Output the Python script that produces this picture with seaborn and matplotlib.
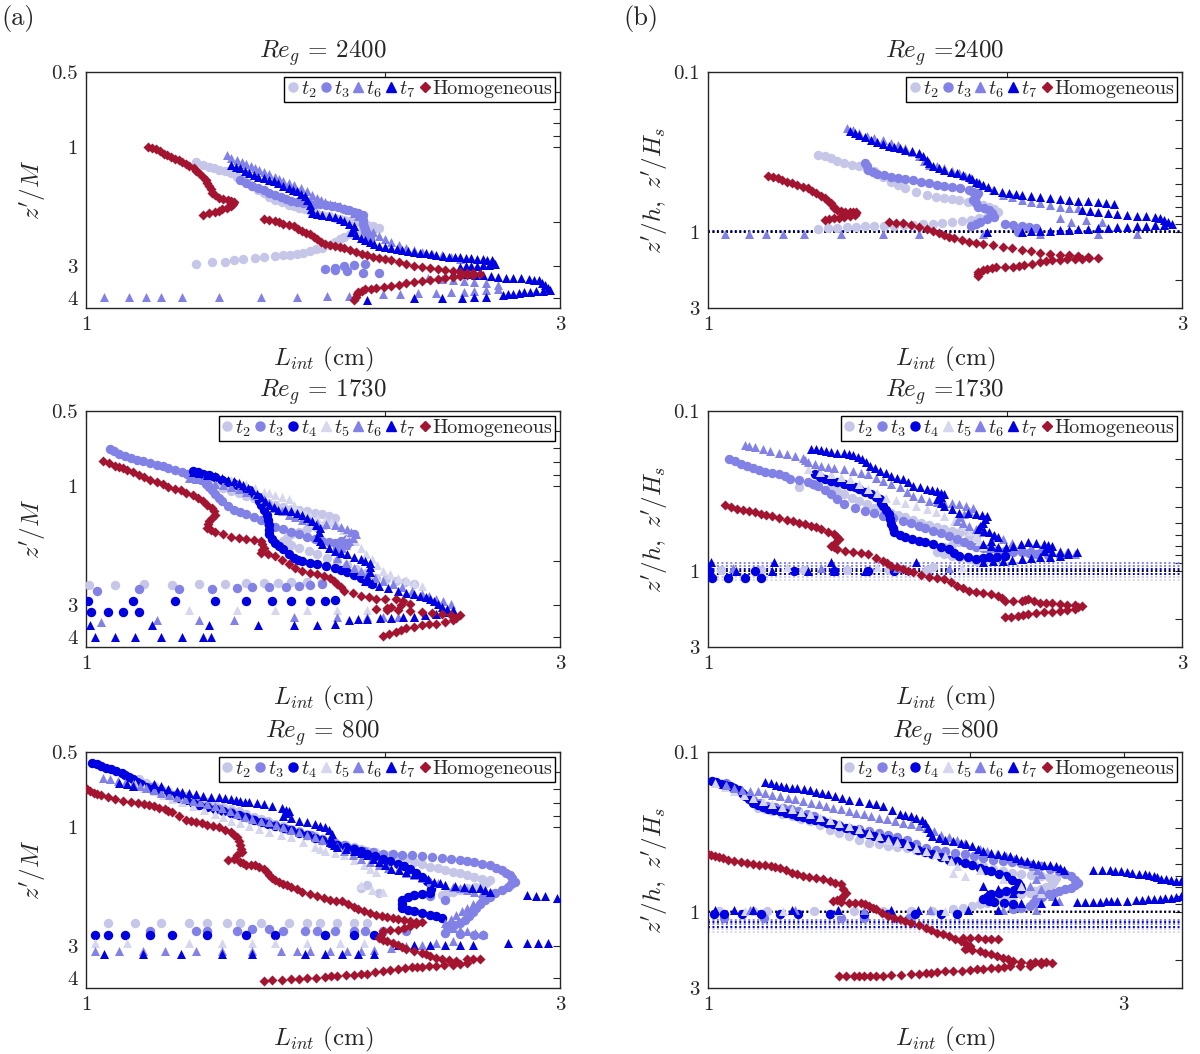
import matplotlib
matplotlib.use('Agg')
import matplotlib.pyplot as plt
from matplotlib.lines import Line2D
from matplotlib.ticker import NullLocator
import seaborn as sns

sns.set_theme(style='white')
plt.rcParams['font.family'] = ['serif']
plt.rcParams['font.serif'] = ['cmr10']
plt.rcParams['mathtext.fontset'] = 'cm'
plt.rcParams['axes.unicode_minus'] = False

# ---------------- data: (L_int [cm], z') pairs ----------------
# Re_g = 2400, z'/M
a1_t2 = [(1.29,1.15),(1.33,1.20),(1.36,1.23),(1.40,1.27),(1.44,1.35),(1.47,1.43),(1.51,1.53),(1.55,1.62),
         (1.60,1.70),(1.64,1.75),(1.68,1.80),(1.73,1.86),(1.78,1.92),(1.82,1.96),(1.87,2.00),(1.92,2.05),
         (1.97,2.10),(1.92,2.13),(1.87,2.19),(1.82,2.28),(1.78,2.40),(1.73,2.52),(1.68,2.61),(1.63,2.68),
         (1.58,2.71),(1.55,2.73),(1.51,2.76),(1.48,2.78),(1.44,2.81),(1.41,2.84),(1.38,2.87),(1.34,2.89),(1.29,2.92),
         (1.31,1.175),(1.345,1.215),(1.38,1.25),(1.42,1.31),(1.455,1.39),(1.49,1.48),(1.53,1.575),(1.575,1.66),
         (1.62,1.725),(1.66,1.775),(1.705,1.83),(1.755,1.89),(1.80,1.94),(1.845,1.98),(1.895,2.025),(1.945,2.075),
         (1.95,2.115),(1.895,2.16),(1.845,2.235),(1.80,2.34),(1.755,2.46),(1.705,2.565),(1.655,2.645),(1.605,2.695)]
a1_t3 = [(1.43,1.35),(1.47,1.43),(1.51,1.49),(1.55,1.55),(1.59,1.61),(1.63,1.66),(1.68,1.68),(1.72,1.68),
         (1.77,1.72),(1.82,1.76),(1.86,1.81),(1.90,1.87),(1.90,2.02),(1.91,2.16),(1.93,2.30),
         (1.45,1.39),(1.49,1.46),(1.53,1.52),(1.57,1.58),(1.61,1.635),(1.655,1.67),(1.70,1.68),(1.745,1.70),
         (1.795,1.74),(1.84,1.785),(1.88,1.84),(1.90,1.95),(1.905,2.09),(1.92,2.23),
         (1.74,3.08),(1.78,3.04),(1.82,2.99),(1.86,2.95),(1.91,2.93),(1.97,3.18),(1.90,3.18),(1.83,3.14),(1.78,3.11)]
a1_t6 = [(1.385,1.075),(1.42,1.12),(1.45,1.17),(1.48,1.21),(1.51,1.26),(1.55,1.31),(1.58,1.36),(1.62,1.42),
         (1.67,1.50),(1.71,1.60),(1.74,1.66),(1.78,1.70),(1.82,1.75),(1.86,1.83),(1.90,1.94),(1.92,2.10),
         (1.97,2.26),(2.03,2.40),(2.10,2.52),(2.18,2.62),(2.28,2.71),(2.38,2.80),
         (1.40,1.10),(1.435,1.145),(1.465,1.19),(1.495,1.235),(1.53,1.285),(1.565,1.335),(1.60,1.39),(1.645,1.46),
         (1.69,1.55),(1.725,1.63),(1.76,1.68),(1.80,1.725),(1.84,1.79),(1.88,1.885),(1.91,2.02),(1.945,2.18),
         (2.00,2.33),(2.065,2.46),(2.14,2.57),(2.23,2.665),(2.33,2.755),
         (2.60,3.57),(2.53,3.51),(2.46,3.46),(2.40,3.44),(2.34,3.41),(2.28,3.38),(2.21,3.34),
         (1.043,3.99),(1.105,3.99),(1.15,3.99),(1.19,3.99),(1.25,3.99),(1.36,3.99),(1.50,3.97),(1.63,3.97),
         (1.75,3.95),(1.84,3.95),(1.99,3.85),(2.07,3.85),(2.16,3.82),(2.25,3.82),(2.33,3.80),(2.40,3.80),
         (2.46,3.77),(2.53,3.73),(2.60,3.68)]
a1_t7 = [(1.40,1.18),(1.43,1.21),(1.46,1.27),(1.49,1.31),(1.53,1.35),(1.56,1.39),(1.60,1.46),(1.63,1.50),
         (1.66,1.57),(1.68,1.70),(1.69,1.83),(1.73,1.87),(1.78,1.91),(1.82,1.97),(1.86,2.07),(1.85,2.19),
         (1.89,2.30),(1.93,2.40),(1.97,2.48),(2.03,2.54),(2.08,2.58),(2.14,2.62),(2.20,2.66),(2.25,2.70),
         (2.32,2.74),(2.38,2.76),(2.44,2.78),(2.51,2.80),(2.56,2.84),(2.58,2.93),(2.51,2.97),(2.44,2.99),
         (2.38,3.01),(2.34,3.18),(2.42,3.22),(2.51,3.26),(2.60,3.31),(2.69,3.34),(2.79,3.36),(2.86,3.41),
         (2.90,3.57),(2.93,3.73),(2.84,3.77),(2.76,3.81),(2.69,3.85),(2.63,3.91),(2.53,3.97),(2.46,3.99),
         (2.39,4.03),(2.28,4.03),(2.14,4.03),(1.92,4.09),
         (1.415,1.195),(1.445,1.24),(1.475,1.29),(1.51,1.33),(1.545,1.37),(1.58,1.425),(1.615,1.48),(1.645,1.535),
         (1.67,1.63),(1.685,1.765),(1.71,1.85),(1.755,1.89),(1.80,1.94),(1.84,2.02),(1.855,2.13),(1.87,2.245),
         (1.91,2.35),(1.95,2.44),(2.00,2.51),(2.055,2.56),(2.11,2.60),(2.17,2.64),(2.225,2.68),(2.285,2.72),
         (2.35,2.75),(2.41,2.77),(2.475,2.79),(2.535,2.82),(2.57,2.885),(2.545,2.95),(2.475,2.98),(2.41,3.00),
         (2.38,3.20),(2.465,3.24),(2.555,3.285),(2.645,3.325),(2.74,3.35),(2.825,3.385),(2.88,3.49),(2.915,3.65),
         (2.885,3.75),(2.80,3.79),(2.725,3.83),(2.66,3.88)]
a1_hom = [(1.155,1.00),(1.176,1.02),(1.197,1.06),(1.218,1.09),(1.24,1.13),(1.26,1.17),(1.285,1.21),(1.30,1.27),
          (1.32,1.35),(1.33,1.43),(1.34,1.52),(1.36,1.60),(1.39,1.62),(1.41,1.66),(1.40,1.72),(1.37,1.77),
          (1.35,1.82),(1.31,1.86),
          (1.165,1.01),(1.186,1.04),(1.207,1.075),(1.23,1.11),(1.25,1.15),(1.27,1.19),(1.29,1.24),(1.31,1.31),
          (1.325,1.39),(1.335,1.47),(1.35,1.56),(1.375,1.61),(1.40,1.64),(1.405,1.69),(1.385,1.745),(1.36,1.795),
          (1.33,1.84),
          (1.51,1.93),(1.55,1.97),(1.58,2.02),(1.62,2.07),(1.65,2.16),(1.68,2.23),(1.71,2.33),(1.74,2.44),
          (1.78,2.49),(1.82,2.54),(1.87,2.63),(1.92,2.71),(1.97,2.78),(2.03,2.84),(2.10,2.93),(2.18,3.02),
          (2.26,3.08),(2.34,3.14),(2.42,3.18),(2.49,3.22),(2.42,3.26),(2.34,3.31),(2.26,3.36),(2.18,3.44),
          (2.10,3.51),(2.03,3.59),(1.96,3.66),(1.91,3.70),(1.88,3.79),(1.87,3.97),(1.86,4.09),
          (1.53,1.95),(1.565,1.995),(1.60,2.045),(1.635,2.115),(1.665,2.195),(1.695,2.28),(1.725,2.385),
          (1.76,2.465),(1.80,2.515),(1.845,2.585),(1.895,2.67),(1.945,2.745),(2.00,2.81),(2.065,2.885),
          (2.14,2.975),(2.22,3.05),(2.30,3.11),(2.38,3.16),(2.455,3.20),(2.455,3.24),(2.38,3.285),(2.30,3.335),
          (2.22,3.40),(2.14,3.475),(2.065,3.55),(1.995,3.625),(1.935,3.68),(1.895,3.745),(1.875,3.88)]

# Re_g = 2400, z'/h
b1_t2 = [(1.29,0.329),(1.33,0.346),(1.37,0.372),(1.42,0.39),(1.47,0.419),(1.53,0.485),(1.58,0.534),
         (1.66,0.588),(1.73,0.617),(1.79,0.632),(1.86,0.664),(1.92,0.696),(1.96,0.748),(1.91,0.805),
         (1.84,0.845),(1.76,0.873),(1.685,0.895),(1.61,0.908),(1.54,0.917),(1.47,0.921),(1.41,0.93),
         (1.35,0.944),(1.29,0.96),
         (1.31,0.337),(1.35,0.359),(1.395,0.381),(1.445,0.404),(1.50,0.452),(1.555,0.509),(1.62,0.561),
         (1.695,0.602),(1.76,0.624),(1.825,0.648),(1.89,0.68),(1.94,0.722),(1.935,0.776),(1.875,0.825),
         (1.80,0.859),(1.72,0.884),(1.645,0.90),(1.575,0.912),(1.505,0.919),(1.44,0.925),(1.38,0.937),(1.32,0.952)]
b1_t3 = [(1.44,0.372),(1.45,0.409),(1.48,0.436),(1.53,0.451),(1.58,0.466),(1.64,0.485),(1.70,0.509),
         (1.76,0.526),(1.83,0.547),(1.87,0.574),(1.85,0.632),(1.87,0.696),(1.92,0.731),(1.94,0.805),
         (1.88,0.865),(1.84,0.917),(1.99,0.90),(2.07,0.917),(2.14,0.953),(2.05,1.0),
         (1.445,0.39),(1.465,0.422),(1.505,0.443),(1.555,0.458),(1.61,0.475),(1.67,0.497),(1.73,0.517),
         (1.795,0.536),(1.85,0.56),(1.86,0.60),(1.86,0.664),(1.895,0.713),(1.93,0.768),(1.91,0.835),
         (1.86,0.89),(2.03,0.908),(2.105,0.935)]
b1_t6 = [(1.38,0.224),(1.42,0.241),(1.47,0.259),(1.53,0.278),(1.58,0.299),(1.63,0.337),(1.67,0.381),
         (1.73,0.40),(1.79,0.43),(1.84,0.462),(1.89,0.509),(1.98,0.588),(2.07,0.632),(2.16,0.664),
         (2.26,0.696),(2.36,0.713),(2.26,0.824),(2.32,0.865),(2.40,0.845),(2.49,0.873),
         (1.40,0.232),(1.445,0.25),(1.50,0.268),(1.555,0.288),(1.605,0.318),(1.65,0.359),(1.70,0.39),
         (1.76,0.415),(1.815,0.446),(1.865,0.485),(1.935,0.548),(2.025,0.61),(2.115,0.648),(2.21,0.68),(2.31,0.705),
         (1.039,1.04),(1.10,1.04),(1.145,1.04),(1.19,1.04),(1.25,1.04),(1.36,1.04),(1.50,1.04),(1.63,1.04),
         (1.89,1.04),(2.16,1.04),(2.47,1.04),(2.70,1.04)]
b1_t7 = [(1.39,0.235),(1.42,0.247),(1.46,0.265),(1.50,0.282),(1.54,0.296),(1.58,0.306),(1.63,0.321),
         (1.66,0.354),(1.685,0.39),(1.73,0.409),(1.78,0.43),(1.83,0.451),(1.86,0.485),(1.89,0.509),
         (1.94,0.547),(2.01,0.574),(2.07,0.588),(2.16,0.602),(2.26,0.623),(2.36,0.638),(2.47,0.654),
         (2.56,0.667),(2.38,0.731),(2.47,0.748),(2.58,0.774),(2.70,0.793),(2.82,0.805),(2.88,0.845),
         (2.93,0.90),(2.82,0.908),(2.70,0.921),(2.58,0.935),(2.47,0.953),(2.36,0.967),(2.26,0.98),
         (2.16,0.99),(2.07,1.0),(1.91,1.0),
         (1.405,0.241),(1.44,0.256),(1.48,0.273),(1.52,0.289),(1.56,0.301),(1.605,0.313),(1.645,0.337),
         (1.67,0.372),(1.71,0.40),(1.755,0.42),(1.805,0.44),(1.845,0.468),(1.875,0.497),(1.915,0.528),
         (1.975,0.56),(2.04,0.581),(2.115,0.595),(2.21,0.612),(2.31,0.63),(2.415,0.646),(2.515,0.66),
         (2.425,0.74),(2.525,0.761),(2.64,0.783),(2.76,0.80),(2.85,0.825),(2.905,0.872),(2.875,0.904),
         (2.76,0.915),(2.64,0.928),(2.525,0.944),(2.415,0.96),(2.31,0.973),(2.21,0.985),(2.115,0.995)]
b1_hom = [(1.15,0.447),(1.176,0.462),(1.20,0.485),(1.23,0.509),(1.26,0.534),(1.285,0.574),(1.31,0.617),
          (1.33,0.664),(1.34,0.713),(1.36,0.741),(1.39,0.756),(1.41,0.748),(1.405,0.786),(1.37,0.805),
          (1.34,0.824),(1.31,0.845),
          (1.163,0.455),(1.188,0.473),(1.215,0.497),(1.245,0.521),(1.272,0.554),(1.30,0.595),(1.32,0.64),
          (1.335,0.688),(1.35,0.727),(1.375,0.75),(1.40,0.752),(1.41,0.767),(1.39,0.795),(1.355,0.815),(1.325,0.835),
          (1.52,0.865),(1.57,0.886),(1.63,0.93),(1.685,0.99),(1.73,1.05),(1.77,1.10),(1.83,1.156),
          (1.89,1.196),(1.98,1.24),(2.07,1.30),(2.16,1.35),(2.26,1.39),(2.36,1.42),(2.47,1.46),(2.38,1.47),
          (2.30,1.49),(2.22,1.51),(2.16,1.54),(2.08,1.62),(2.03,1.66),(1.95,1.66),(1.91,1.70),(1.87,1.79),
          (1.87,1.89),
          (1.545,0.875),(1.60,0.908),(1.66,0.96),(1.71,1.02),(1.75,1.075),(1.80,1.13),(1.86,1.176),(1.935,1.218),
          (2.025,1.27),(2.115,1.325),(2.21,1.37),(2.31,1.405),(2.415,1.44),(2.42,1.465),(2.34,1.48),(2.26,1.50),
          (2.19,1.525),(2.12,1.58),(2.055,1.64),(1.99,1.66),(1.93,1.68),(1.89,1.745),(1.87,1.84)]
b1_hlines = [('t7', 0.995), ('t3', 1.01), ('k', 1.0)]

# Re_g = 1730, z'/M
a2_t2 = [(1.30,0.93),(1.35,0.99),(1.40,1.047),(1.45,1.09),(1.50,1.136),(1.55,1.19),(1.61,1.23),(1.67,1.26),
         (1.73,1.29),(1.78,1.34),(1.74,1.43),(1.67,1.49),(1.61,1.56),(1.58,1.66),(1.64,1.77),(1.71,1.87),
         (1.79,1.99),(1.87,2.15),(1.96,2.32),(2.05,2.39),(2.14,2.46),
         (1.325,0.96),(1.375,1.018),(1.425,1.068),(1.475,1.113),(1.525,1.163),(1.58,1.21),(1.64,1.245),
         (1.70,1.275),(1.755,1.315),(1.76,1.385),(1.705,1.46),(1.64,1.525),(1.595,1.61),(1.61,1.715),
         (1.675,1.82),(1.75,1.93),(1.83,2.07),(1.915,2.235),(2.005,2.355),(2.095,2.425),
         (1.007,2.48),(1.07,2.48),(1.145,2.46),(1.22,2.48),(1.30,2.46),(1.38,2.46),(1.45,2.44),(1.51,2.44),
         (1.56,2.44),(1.61,2.42),(1.67,2.42),(1.73,2.42)]
a2_t3 = [(1.057,0.71),(1.08,0.743),(1.11,0.77),(1.14,0.794),(1.18,0.82),(1.21,0.846),(1.25,0.878),(1.28,0.91),
         (1.31,0.947),(1.33,1.006),(1.35,1.07),(1.37,1.15),(1.41,1.24),(1.45,1.29),(1.50,1.36),(1.55,1.45),
         (1.61,1.52),(1.67,1.60),(1.73,1.66),(1.78,1.69),(1.83,1.63),(1.86,1.56),(1.83,1.71),(1.79,1.77),
         (1.068,0.726),(1.095,0.757),(1.125,0.782),(1.16,0.807),(1.195,0.833),(1.23,0.862),(1.265,0.894),
         (1.295,0.928),(1.32,0.976),(1.34,1.038),(1.36,1.11),(1.39,1.195),(1.43,1.265),(1.475,1.325),
         (1.525,1.405),(1.58,1.485),(1.64,1.56),(1.70,1.63),(1.755,1.675),(1.805,1.66),(1.845,1.595),
         (1.025,2.62),(1.13,2.58),(1.24,2.59),(1.34,2.58),(1.42,2.55),(1.47,2.54),(1.53,2.52),(1.59,2.52),
         (1.64,2.50),(1.68,2.48),(1.73,2.46)]
a2_t4 = [(1.28,0.87),(1.31,0.89),(1.35,0.92),(1.39,0.96),(1.42,0.99),(1.46,1.04),(1.49,1.10),(1.50,1.19),
         (1.52,1.30),(1.53,1.43),(1.53,1.56),(1.55,1.69),(1.58,1.79),(1.62,1.93),(1.65,2.00),(1.71,2.05),
         (1.78,2.12),(1.83,2.21),(1.89,2.32),(1.94,2.46),
         (1.295,0.88),(1.33,0.905),(1.37,0.94),(1.405,0.975),(1.44,1.015),(1.475,1.07),(1.495,1.145),
         (1.51,1.245),(1.525,1.365),(1.53,1.495),(1.54,1.625),(1.565,1.74),(1.60,1.86),(1.635,1.965),
         (1.68,2.025),(1.745,2.085),(1.805,2.165),(1.86,2.265),(1.915,2.39),
         (1.005,2.87),(1.115,2.87),(1.23,2.87),(1.35,2.87),(1.45,2.87),(1.54,2.87),(1.61,2.87),(1.68,2.87),
         (1.74,2.87),(1.78,2.85),(1.012,3.19),(1.053,3.19),(1.09,3.19),(1.13,3.19)]
a2_t5 = [(1.40,0.947),(1.45,0.976),(1.51,1.05),(1.55,1.085),(1.60,1.12),(1.64,1.26),(1.68,1.32),(1.74,1.36),
         (1.79,1.43),(1.84,1.56),(1.89,1.76),(1.94,1.96),(1.99,2.18),(2.06,2.32),(2.14,2.43),(2.18,2.50),
         (1.425,0.96),(1.48,1.013),(1.53,1.068),(1.575,1.10),(1.62,1.19),(1.66,1.29),(1.71,1.34),(1.765,1.395),
         (1.815,1.495),(1.865,1.66),(1.915,1.86),(1.965,2.07),(2.025,2.25),(2.10,2.375),
         (1.27,3.14),(1.42,3.14),(1.55,3.14),(1.67,3.14),(1.79,3.14),(1.92,3.14)]
a2_t6 = [(1.27,0.93),(1.31,0.94),(1.35,0.976),(1.40,1.006),(1.45,1.05),(1.51,1.12),(1.55,1.225),(1.60,1.30),
         (1.65,1.36),(1.71,1.40),(1.78,1.43),(1.83,1.49),(1.87,1.56),(1.84,1.66),(1.81,1.77),(1.79,1.93),
         (1.86,2.12),(1.92,2.25),(1.99,2.39),(2.08,2.54),(2.18,2.70),(2.25,2.82),(2.33,2.95),
         (1.29,0.935),(1.33,0.958),(1.375,0.99),(1.425,1.028),(1.48,1.085),(1.53,1.17),(1.575,1.262),
         (1.625,1.33),(1.68,1.38),(1.745,1.415),(1.805,1.46),(1.85,1.525),(1.855,1.61),(1.825,1.715),
         (1.80,1.85),(1.825,2.025),(1.89,2.185),(1.955,2.32),(2.035,2.465),(2.13,2.62),(2.215,2.76),(2.29,2.885),
         (1.036,3.49),(1.18,3.44),(1.30,3.44),(1.41,3.44),(1.62,3.34),(1.79,3.34),(1.92,3.34),
         (1.99,3.34),(2.06,3.34),(2.14,3.34)]
a2_t7 = [(1.28,0.878),(1.325,0.90),(1.37,0.927),(1.41,0.955),(1.44,0.99),(1.47,1.04),(1.50,1.10),(1.53,1.19),
         (1.56,1.24),(1.61,1.26),(1.65,1.30),(1.69,1.38),(1.72,1.47),(1.71,1.59),(1.73,1.71),(1.78,1.82),
         (1.83,1.87),(1.89,1.96),(1.93,2.02),(1.93,2.21),(1.91,2.39),(1.97,2.50),(2.06,2.62),(2.14,2.71),
         (2.20,2.78),(2.24,2.88),(2.28,3.05),(2.34,3.14),(2.25,3.24),(2.14,3.34),(2.03,3.36),(1.92,3.39),
         (1.84,3.44),
         (1.30,0.889),(1.35,0.913),(1.39,0.941),(1.425,0.972),(1.455,1.015),(1.485,1.07),(1.515,1.145),
         (1.545,1.215),(1.585,1.25),(1.63,1.28),(1.67,1.34),(1.705,1.425),(1.715,1.53),(1.72,1.65),
         (1.755,1.765),(1.805,1.845),(1.86,1.915),(1.91,1.99),(1.93,2.11),(1.92,2.30),(1.94,2.445),
         (2.015,2.56),(2.10,2.665),(2.17,2.745),(2.22,2.83),(2.26,2.965),(2.31,3.095),(2.295,3.19),
         (2.195,3.29),(2.085,3.35),(1.975,3.375),(1.88,3.415),
         (1.009,3.60),(1.165,3.60),(1.33,3.60),(1.49,3.60),(1.62,3.60),(1.71,3.60),(1.78,3.55),
         (1.02,4.0),(1.07,4.0),(1.12,4.0),(1.19,4.0),(1.25,4.0),(1.31,4.0),(1.335,4.0)]
a2_hom = [(1.04,0.79),(1.07,0.83),(1.09,0.846),(1.115,0.878),(1.145,0.918),(1.18,0.96),(1.21,1.006),
          (1.245,1.04),(1.28,1.085),(1.31,1.15),(1.34,1.225),(1.35,1.30),(1.33,1.38),(1.325,1.47),
          (1.35,1.52),(1.40,1.59),(1.45,1.63),(1.50,1.66),(1.51,1.76),(1.50,1.85),(1.55,1.90),(1.60,2.05),
          (1.65,2.18),(1.71,2.25),(1.76,2.32),(1.79,2.46),(1.82,2.62),(1.89,2.74),(1.96,2.82),(2.05,2.82),
          (2.12,2.95),(2.03,3.05),(1.96,3.09),(2.06,3.14),(2.18,3.19),(2.28,3.24),(2.38,3.29),(2.34,3.44),
          (2.25,3.55),(2.18,3.60),(2.10,3.71),(2.05,3.82),(1.99,3.98),
          (1.055,0.81),(1.08,0.838),(1.10,0.862),(1.13,0.898),(1.16,0.94),(1.195,0.983),(1.228,1.023),
          (1.26,1.06),(1.295,1.115),(1.325,1.19),(1.345,1.26),(1.34,1.34),(1.328,1.42),(1.335,1.50),
          (1.375,1.555),(1.425,1.61),(1.475,1.645),(1.505,1.71),(1.505,1.805),(1.525,1.875),(1.575,1.975),
          (1.625,2.115),(1.68,2.215),(1.735,2.285),(1.775,2.39),(1.805,2.54),(1.855,2.68),(1.925,2.78),
          (2.00,2.82),(2.085,2.885),(2.075,3.00),(2.01,3.07),(2.01,3.115),(2.12,3.165),(2.23,3.215),
          (2.33,3.265),(2.36,3.36),(2.30,3.50),(2.215,3.575),(2.14,3.655),(2.075,3.76),(2.02,3.90)]

# Re_g = 1730, z'/h
b2_t2 = [(1.235,0.297),(1.28,0.291),(1.33,0.301),(1.37,0.332),(1.42,0.365),(1.47,0.402),(1.53,0.432),
         (1.58,0.464),(1.64,0.499),(1.70,0.536),(1.76,0.562),(1.83,0.59),(1.86,0.619),(1.79,0.665),
         (1.73,0.715),(1.70,0.768),(1.76,0.806),(1.83,0.845),(1.89,0.887),(1.685,0.953),
         (1.35,0.316),(1.395,0.348),(1.445,0.383),(1.50,0.417),(1.555,0.448),(1.61,0.481),(1.67,0.517),
         (1.73,0.549),(1.795,0.576),(1.845,0.604),(1.825,0.642),(1.76,0.69),(1.715,0.741),(1.73,0.787),
         (1.795,0.825),(1.86,0.866),
         (1.03,0.99),(1.13,0.99),(1.25,0.99),(1.38,0.99),(1.52,0.99),(1.66,0.99)]
b2_t3 = [(1.05,0.20),(1.08,0.215),(1.11,0.226),(1.14,0.24),(1.18,0.249),(1.21,0.265),(1.26,0.28),(1.29,0.294),
         (1.33,0.332),(1.37,0.383),(1.44,0.422),(1.50,0.453),(1.57,0.487),(1.63,0.523),(1.685,0.562),
         (1.75,0.604),(1.81,0.665),(1.86,0.715),(1.92,0.732),(1.99,0.75),(2.07,0.768),(2.14,0.787),
         (2.26,0.806),
         (1.065,0.207),(1.095,0.22),(1.125,0.233),(1.16,0.244),(1.195,0.257),(1.235,0.272),(1.275,0.287),
         (1.31,0.313),(1.35,0.357),(1.405,0.402),(1.47,0.437),(1.535,0.47),(1.60,0.505),(1.655,0.542),
         (1.715,0.583),(1.78,0.634),(1.835,0.69),(1.89,0.723),(1.955,0.741),(2.03,0.759),(2.105,0.777),(2.20,0.796)]
b2_t4 = [(1.28,0.249),(1.31,0.267),(1.35,0.28),(1.39,0.294),(1.42,0.309),(1.46,0.332),(1.49,0.356),
         (1.50,0.392),(1.52,0.442),(1.53,0.511),(1.54,0.576),(1.58,0.619),(1.63,0.649),(1.685,0.681),
         (1.75,0.732),(1.79,0.806),(1.86,0.845),(1.92,0.825),(1.99,0.806),
         (1.295,0.258),(1.33,0.273),(1.37,0.287),(1.405,0.301),(1.44,0.32),(1.475,0.344),(1.495,0.374),
         (1.51,0.417),(1.525,0.476),(1.535,0.543),(1.56,0.597),(1.605,0.634),(1.655,0.665),(1.715,0.706),
         (1.77,0.769),(1.825,0.825),(1.89,0.835),(1.955,0.815),
         (1.003,1.0),(1.115,1.0),(1.22,1.0),(1.34,1.0),(1.45,1.0),(1.54,1.0),
         (1.01,1.11),(1.048,1.11),(1.09,1.11),(1.13,1.11)]
b2_t5 = [(1.26,0.231),(1.33,0.249),(1.39,0.267),(1.45,0.309),(1.51,0.348),(1.58,0.374),(1.66,0.41),
         (1.73,0.453),(1.81,0.523),(1.86,0.604),(1.89,0.698),
         (1.295,0.24),(1.36,0.258),(1.42,0.288),(1.48,0.328),(1.545,0.361),(1.62,0.392),(1.695,0.43),
         (1.77,0.488),(1.835,0.562),(1.875,0.65),
         (1.20,0.95),(1.48,0.95),(1.80,0.95)]
b2_t6 = [(1.09,0.164),(1.115,0.169),(1.155,0.178),(1.20,0.186),(1.246,0.196),(1.26,0.21),(1.30,0.22),
         (1.34,0.226),(1.40,0.237),(1.45,0.249),(1.50,0.274),(1.56,0.301),(1.61,0.34),(1.67,0.365),
         (1.73,0.374),(1.79,0.383),(1.85,0.402),(1.81,0.442),(1.78,0.487),(1.83,0.523),(1.89,0.576),
         (1.98,0.634),(2.07,0.698),(2.16,0.732),(2.26,0.75),(2.34,0.787),
         (1.10,0.166),(1.135,0.173),(1.178,0.182),(1.223,0.191),(1.253,0.203),(1.28,0.215),(1.32,0.223),
         (1.37,0.231),(1.425,0.243),(1.475,0.261),(1.53,0.287),(1.585,0.32),(1.64,0.352),(1.70,0.369),
         (1.76,0.378),(1.82,0.392),(1.83,0.422),(1.795,0.464),(1.805,0.505),(1.86,0.55),(1.935,0.605),
         (2.025,0.666),(2.115,0.715),(2.21,0.741),(2.30,0.768),
         (1.06,0.96),(1.30,0.96),(1.55,0.96),(1.75,0.96)]
b2_t7 = [(1.27,0.172),(1.30,0.175),(1.33,0.18),(1.37,0.184),(1.40,0.189),(1.43,0.20),(1.455,0.22),(1.49,0.237),
         (1.53,0.255),(1.57,0.267),(1.61,0.294),(1.66,0.309),(1.70,0.316),(1.73,0.332),(1.70,0.356),
         (1.73,0.392),(1.79,0.432),(1.86,0.442),(1.91,0.453),(1.89,0.499),(1.87,0.549),(1.92,0.576),
         (1.96,0.619),(1.89,0.681),(1.96,0.715),(2.03,0.698),(2.10,0.665),(2.18,0.681),(2.22,0.698),
         (2.18,0.75),(2.26,0.768),(2.35,0.768),(2.26,0.806),(2.16,0.825),(2.07,0.845),(1.98,0.866),(1.89,0.878),
         (1.285,0.173),(1.315,0.177),(1.35,0.182),(1.385,0.186),(1.415,0.194),(1.443,0.21),(1.473,0.228),
         (1.51,0.246),(1.55,0.261),(1.59,0.28),(1.635,0.301),(1.68,0.312),(1.715,0.324),(1.715,0.344),
         (1.715,0.374),(1.76,0.412),(1.825,0.437),(1.885,0.447),(1.90,0.476),(1.88,0.524),(1.895,0.562),
         (1.94,0.597),(1.925,0.65),(1.925,0.698),(1.995,0.706),(2.065,0.681),(2.14,0.673),(2.20,0.69),
         (2.20,0.724),(2.22,0.759),(2.305,0.768),(2.305,0.787),(2.21,0.815),(2.115,0.835),(2.025,0.855),(1.935,0.872),
         (1.067,1.0),(1.16,1.0),(1.26,1.0),(1.34,1.0),(1.44,1.0),
         (1.007,0.88),(1.166,0.88),(1.33,0.88),(1.62,0.88)]
b2_hom = [(1.039,0.389),(1.07,0.41),(1.10,0.42),(1.13,0.442),(1.16,0.457),(1.20,0.48),(1.235,0.503),
          (1.27,0.523),(1.30,0.549),(1.34,0.59),(1.355,0.634),(1.33,0.698),(1.35,0.732),(1.40,0.768),
          (1.45,0.787),(1.50,0.866),(1.53,0.93),(1.57,0.976),(1.61,1.024),(1.67,1.10),(1.73,1.127),
          (1.78,1.24),(1.83,1.33),(1.89,1.37),(1.96,1.43),(1.99,1.54),(2.07,1.54),(2.10,1.50),(2.16,1.58),
          (2.22,1.59),(2.30,1.64),(2.38,1.65),(2.34,1.74),(2.26,1.78),(2.18,1.82),(2.10,1.87),(2.05,1.91),
          (1.99,1.96),
          (1.055,0.40),(1.085,0.415),(1.115,0.431),(1.145,0.45),(1.18,0.468),(1.218,0.491),(1.253,0.513),
          (1.285,0.536),(1.32,0.57),(1.348,0.612),(1.343,0.666),(1.34,0.715),(1.375,0.75),(1.425,0.777),
          (1.475,0.826),(1.515,0.898),(1.55,0.953),(1.59,1.0),(1.64,1.062),(1.70,1.113),(1.755,1.18),
          (1.805,1.285),(1.86,1.35),(1.925,1.40),(1.975,1.485),(2.03,1.54),(2.085,1.52),(2.13,1.54),
          (2.19,1.585),(2.26,1.615),(2.34,1.645),(2.36,1.695),(2.30,1.76),(2.22,1.80),(2.14,1.845),
          (2.075,1.89),(2.02,1.935)]
b2_hlines = [('t6', 0.90), ('t3', 0.94), ('t7', 0.97), ('t4', 1.05), ('t2', 1.10), ('t5', 1.15), ('k', 1.0)]

# Re_g = 800, z'/M
a3_t2 = [(1.13,0.643),(1.17,0.684),(1.21,0.716),(1.26,0.753),(1.30,0.784),(1.35,0.808),(1.40,0.846),
         (1.45,0.885),(1.50,0.927),(1.55,0.97),(1.61,1.015),(1.67,1.063),(1.73,1.11),(1.79,1.165),
         (1.86,1.20),(1.92,1.24),(1.99,1.276),(2.06,1.315),(2.14,1.376),(2.22,1.44),(2.30,1.485),(2.38,1.53),
         (2.46,1.58),(2.55,1.63),(2.51,1.70),(2.42,1.756),(2.34,1.81),(2.28,1.87),(1.92,1.70),(1.89,1.756),
         (1.97,1.84),
         (1.15,0.663),(1.19,0.70),(1.235,0.734),(1.28,0.768),(1.325,0.796),(1.375,0.827),(1.425,0.865),
         (1.475,0.906),(1.525,0.948),(1.58,0.992),(1.64,1.039),(1.70,1.086),(1.76,1.137),(1.825,1.182),
         (1.89,1.22),(1.955,1.258),(2.025,1.295),(2.10,1.345),(2.18,1.408),(2.26,1.462),(2.34,1.507),
         (2.42,1.555),(2.505,1.605),(2.53,1.665),(2.465,1.728),(2.38,1.783),(2.31,1.84),
         (1.053,2.42),(1.12,2.42),(1.19,2.42),(1.27,2.42),(1.325,2.42),(1.385,2.42),(1.43,2.42),(1.50,2.42),
         (1.60,2.42),(1.67,2.42),(1.72,2.42),(1.79,2.42),(1.86,2.42),(1.92,2.42)]
a3_t3 = [(1.13,0.663),(1.19,0.716),(1.26,0.772),(1.325,0.825),(1.40,0.872),(1.47,0.927),(1.55,0.98),
         (1.64,1.047),(1.73,1.11),(1.82,1.18),(1.905,1.24),(1.99,1.276),(2.08,1.295),(2.18,1.30),(2.28,1.327),
         (2.38,1.356),(2.46,1.376),(2.55,1.42),(2.62,1.485),(2.67,1.555),(2.70,1.65),(2.66,1.73),(2.58,1.84),
         (2.52,1.95),(2.47,2.11),(2.43,2.27),(2.38,2.42),(2.31,2.49),(2.14,1.87),(2.22,1.89),(2.30,1.95),
         (1.16,0.69),(1.225,0.744),(1.29,0.798),(1.36,0.848),(1.435,0.90),(1.51,0.953),(1.595,1.013),
         (1.685,1.078),(1.775,1.145),(1.86,1.21),(1.945,1.258),(2.035,1.285),(2.13,1.297),(2.23,1.313),
         (2.33,1.341),(2.42,1.366),(2.505,1.398),(2.585,1.452),(2.645,1.52),(2.685,1.60),(2.68,1.69),
         (2.62,1.785),(2.55,1.895),(2.495,2.03),(2.45,2.19),(2.405,2.345),(2.345,2.455),
         (2.30,2.65),(2.38,2.67),(2.46,2.69),(2.51,2.69),
         (1.16,2.61),(1.29,2.61),(1.325,2.61),(1.42,2.61),(1.47,2.55),(1.53,2.55),(1.58,2.61),(1.66,2.61),
         (1.71,2.61),(1.78,2.61),(1.86,2.61),(1.91,2.61),(1.99,2.61),(2.10,2.61)]
a3_t4 = [(1.014,0.553),(1.036,0.57),(1.06,0.587),(1.086,0.605),(1.105,0.628),(1.125,0.659),(1.15,0.688),
         (1.18,0.716),(1.22,0.753),(1.26,0.78),(1.30,0.816),(1.35,0.846),(1.40,0.877),(1.45,0.913),
         (1.50,0.955),(1.55,0.99),(1.61,1.03),(1.67,1.079),(1.73,1.13),(1.79,1.175),(1.86,1.22),(1.92,1.276),
         (1.99,1.335),(2.06,1.40),(2.12,1.463),(2.18,1.58),(2.23,1.70),(2.22,1.84),(2.14,1.87),(2.08,1.95),
         (2.08,2.11),(2.14,2.17),(2.22,2.24),(2.28,2.31),
         (1.025,0.561),(1.048,0.578),(1.073,0.596),(1.095,0.616),(1.115,0.643),(1.137,0.673),(1.165,0.702),
         (1.20,0.734),(1.24,0.766),(1.28,0.798),(1.325,0.831),(1.375,0.861),(1.425,0.895),(1.475,0.934),
         (1.525,0.972),(1.58,1.01),(1.64,1.054),(1.70,1.104),(1.76,1.152),(1.825,1.197),(1.89,1.248),
         (1.955,1.305),(2.025,1.367),(2.09,1.43),(2.15,1.52),(2.205,1.64),(2.225,1.77),(2.18,1.855),
         (2.11,1.91),(2.08,2.03),(2.11,2.14),(2.18,2.205),(2.25,2.275),
         (1.02,2.69),(1.053,2.69),(1.095,2.69),(1.16,2.69),(1.22,2.69),(1.325,2.69),(1.45,2.69),(1.55,2.69),
         (1.74,2.69),(1.86,2.69),(1.95,2.69)]
a3_t5 = [(1.12,0.673),(1.17,0.716),(1.22,0.772),(1.28,0.82),(1.35,0.885),(1.40,0.941),(1.46,0.985),
         (1.53,1.047),(1.61,1.095),(1.70,1.20),(1.74,1.24),(1.82,1.295),(1.905,1.42),(1.96,1.51),(1.89,1.70),
         (1.94,1.78),(1.99,1.81),
         (1.145,0.694),(1.195,0.743),(1.25,0.796),(1.315,0.852),(1.375,0.913),(1.43,0.963),(1.495,1.016),
         (1.57,1.071),(1.655,1.147),(1.72,1.22),(1.78,1.267),(1.86,1.357),(1.93,1.465),
         (1.02,2.90),(1.10,2.90),(1.27,2.90),(1.37,2.90),(1.47,2.90),(1.55,2.90),(1.67,2.90),(1.80,2.90),
         (1.905,2.90)]
a3_t6 = [(1.04,0.634),(1.076,0.653),(1.115,0.673),(1.15,0.694),(1.19,0.727),(1.235,0.76),(1.28,0.784),
         (1.325,0.808),(1.37,0.84),(1.42,0.885),(1.47,0.927),(1.53,0.955),(1.58,1.0),(1.64,1.047),(1.70,1.095),
         (1.76,1.147),(1.82,1.24),(1.89,1.335),(1.97,1.42),(2.06,1.485),(2.14,1.555),(2.22,1.65),(2.30,1.70),
         (2.38,1.756),(2.46,1.81),(2.55,1.84),(2.49,1.95),(2.42,2.11),(2.36,2.24),(2.30,2.42),(2.34,2.53),
         (2.42,2.61),(2.51,2.67),
         (1.058,0.643),(1.095,0.663),(1.133,0.683),(1.17,0.71),(1.213,0.743),(1.258,0.772),(1.303,0.796),
         (1.348,0.824),(1.395,0.862),(1.445,0.906),(1.50,0.941),(1.555,0.977),(1.61,1.023),(1.67,1.071),
         (1.73,1.121),(1.79,1.19),(1.855,1.287),(1.93,1.377),(2.015,1.452),(2.10,1.52),(2.18,1.60),
         (2.26,1.675),(2.34,1.728),(2.42,1.783),(2.505,1.825),(2.52,1.89),(2.455,2.03),(2.39,2.17),
         (2.33,2.33),(2.32,2.475),(2.38,2.57),(2.465,2.64),
         (1.02,3.13),(1.08,3.13),(1.14,3.13),(1.20,3.13),(1.29,3.13),(1.37,3.13),(1.47,3.13),(1.57,3.13),
         (1.63,3.13),(1.68,3.13),(1.76,3.13),(1.83,3.13),(1.89,3.13),(1.95,3.10),(2.03,3.05),(2.10,3.00),
         (2.18,2.95),(2.25,2.90),(2.34,2.85)]
a3_t7 = [(1.08,0.663),(1.115,0.684),(1.17,0.673),(1.19,0.684),(1.235,0.716),(1.27,0.727),(1.31,0.749),
         (1.36,0.76),(1.40,0.772),(1.43,0.784),(1.46,0.796),(1.51,0.808),(1.575,0.84),(1.60,0.859),
         (1.58,0.899),(1.64,0.941),(1.70,0.97),(1.74,1.0),(1.77,1.063),(1.76,1.147),(1.79,1.20),(1.86,1.24),
         (1.92,1.295),(1.97,1.376),(2.03,1.463),(2.10,1.51),(2.18,1.58),(2.24,1.65),(2.30,1.70),(2.40,1.73),
         (2.49,1.756),(2.55,1.81),(2.78,1.87),(2.84,1.89),(2.90,1.89),(2.98,1.92),
         (1.10,0.673),(1.21,0.70),(1.25,0.721),(1.29,0.738),(1.335,0.754),(1.38,0.766),(1.415,0.778),
         (1.445,0.79),(1.485,0.802),(1.54,0.824),(1.59,0.85),(1.59,0.88),(1.61,0.92),(1.67,0.955),(1.72,0.985),
         (1.755,1.03),(1.765,1.105),(1.775,1.175),(1.825,1.22),(1.89,1.268),(1.945,1.335),(2.00,1.42),
         (2.065,1.487),(2.14,1.545),(2.21,1.615),(2.27,1.675),(2.35,1.715),(2.445,1.743),(2.52,1.783),
         (1.043,3.23),(1.14,3.23),(1.245,3.23),(1.37,3.23),(1.47,3.23),(1.66,3.23),(1.74,3.23),(1.81,3.23),
         (1.88,3.23),(1.95,3.23),(2.06,2.95),(2.14,2.95),(2.22,2.95),(2.30,2.95),(2.38,2.95),(2.45,2.95),
         (2.66,2.90),(2.78,2.90),(2.85,2.90),(2.92,2.90)]
a3_hom = [(1.003,0.705),(1.018,0.727),(1.036,0.744),(1.07,0.772),(1.11,0.796),(1.145,0.808),(1.17,0.825),
          (1.20,0.846),(1.22,0.872),(1.26,0.932),(1.29,0.95),(1.325,0.98),(1.36,1.0),(1.40,1.047),(1.42,1.096),
          (1.43,1.18),(1.435,1.256),(1.41,1.335),(1.39,1.356),(1.43,1.376),(1.45,1.41),(1.48,1.42),
          (1.51,1.463),(1.53,1.555),(1.55,1.63),(1.58,1.68),(1.61,1.73),(1.65,1.81),(1.71,1.89),(1.76,1.95),
          (1.81,1.98),(1.86,2.08),(1.905,2.17),(1.96,2.24),(2.01,2.29),(2.06,2.34),(2.12,2.38),(2.18,2.40),
          (2.12,2.49),(2.06,2.57),(1.99,2.61),(1.97,2.77),(2.01,2.86),(2.06,2.95),(2.10,3.08),(2.18,3.18),
          (2.22,3.28),(2.28,3.38),(2.36,3.43),(2.42,3.38),(2.49,3.38),(2.42,3.48),(2.34,3.56),(2.25,3.59),
          (2.18,3.62),(2.13,3.64),(2.06,3.70),(1.99,3.76),(1.92,3.85),(1.86,3.90),(1.79,3.93),(1.74,3.97),
          (1.67,4.02),(1.61,4.05),(1.54,4.09),(1.51,4.12),
          (1.01,0.716),(1.027,0.735),(1.053,0.758),(1.09,0.784),(1.128,0.802),(1.158,0.816),(1.185,0.835),
          (1.21,0.859),(1.24,0.90),(1.275,0.941),(1.307,0.965),(1.343,0.99),(1.38,1.023),(1.41,1.07),
          (1.425,1.138),(1.433,1.218),(1.42,1.295),(1.44,1.393),(1.465,1.415),(1.495,1.44),(1.52,1.51),
          (1.54,1.59),(1.565,1.655),(1.595,1.705),(1.63,1.77),(1.68,1.85),(1.735,1.92),(1.785,1.965),
          (1.835,2.03),(1.88,2.125),(1.93,2.205),(1.985,2.265),(2.035,2.315),(2.09,2.36),(2.15,2.39),
          (2.15,2.445),(2.09,2.53),(2.025,2.59),(1.98,2.69),(1.99,2.815),(2.035,2.905),(2.08,3.015),
          (2.14,3.13),(2.20,3.23),(2.25,3.33),(2.32,3.405),(2.455,3.38),(2.38,3.52),(2.295,3.575),
          (2.215,3.605),(2.155,3.63),(2.095,3.67),(2.025,3.73),(1.955,3.805),(1.89,3.875),(1.825,3.915),
          (1.765,3.95),(1.705,3.995),(1.64,4.035),(1.575,4.07)]

# Re_g = 800, z'/h
b3_t2 = [(1.14,0.224),(1.185,0.235),(1.247,0.252),(1.31,0.271),(1.38,0.306),(1.45,0.337),(1.53,0.37),
         (1.61,0.389),(1.69,0.398),(1.78,0.418),(1.87,0.449),(1.97,0.482),(2.07,0.518),(2.18,0.557),
         (2.29,0.584),(2.41,0.599),(2.51,0.613),(2.48,0.675),(2.41,0.725),(2.34,0.761),(2.24,0.798),
         (2.18,0.837),(2.09,0.878),(2.01,0.922),(1.91,0.967),
         (1.162,0.229),(1.216,0.243),(1.278,0.261),(1.345,0.288),(1.415,0.321),(1.49,0.353),(1.57,0.379),
         (1.65,0.393),(1.735,0.408),(1.825,0.433),(1.92,0.465),(2.02,0.50),(2.125,0.537),(2.235,0.57),
         (2.35,0.591),(2.46,0.606),(2.495,0.644),(2.445,0.70),(2.375,0.743),(2.29,0.779),(2.21,0.817),
         (2.135,0.857),(2.05,0.90),(1.96,0.944),
         (1.03,0.99),(1.127,0.99),(1.17,0.99),(1.325,0.99),(1.47,0.99),(1.59,0.99),(1.71,0.99),(1.81,0.99)]
b3_t3 = [(1.05,0.156),(1.08,0.174),(1.127,0.199),(1.17,0.218),(1.22,0.224),(1.27,0.235),(1.325,0.252),
         (1.38,0.278),(1.45,0.298),(1.53,0.313),(1.61,0.329),(1.69,0.353),(1.78,0.398),(1.87,0.418),
         (1.97,0.438),(2.07,0.46),(2.18,0.482),(2.29,0.494),(2.41,0.518),(2.53,0.557),(2.61,0.599),
         (2.66,0.659),(2.61,0.708),(2.53,0.743),(2.46,0.779),(2.38,0.837),(2.34,0.922),(2.24,0.967),
         (1.065,0.165),(1.10,0.186),(1.148,0.208),(1.195,0.221),(1.245,0.229),(1.298,0.243),(1.35,0.265),
         (1.415,0.288),(1.49,0.305),(1.57,0.321),(1.65,0.341),(1.735,0.375),(1.825,0.408),(1.92,0.428),
         (2.02,0.449),(2.125,0.471),(2.235,0.488),(2.35,0.506),(2.47,0.537),(2.57,0.578),(2.635,0.629),
         (2.635,0.683),(2.57,0.725),(2.495,0.761),(2.42,0.808),(2.36,0.88),(2.29,0.944),
         (1.044,1.09),(1.16,1.09),(1.42,1.09),(1.51,1.09),(1.70,1.09)]
b3_t4 = [(1.011,0.151),(1.034,0.158),(1.06,0.164),(1.084,0.174),(1.104,0.189),(1.127,0.208),(1.156,0.221),
         (1.19,0.231),(1.23,0.24),(1.266,0.252),(1.305,0.262),(1.35,0.271),(1.39,0.284),(1.44,0.298),
         (1.50,0.32),(1.55,0.337),(1.61,0.35),(1.67,0.37),(1.74,0.408),(1.81,0.438),(1.89,0.471),(1.97,0.494),
         (2.05,0.531),(2.11,0.557),(2.20,0.599),(2.27,0.659),(2.29,0.725),(2.20,0.743),(2.11,0.779),
         (2.07,0.837),(2.13,0.87),(2.24,0.90),
         (1.022,0.154),(1.047,0.161),(1.072,0.169),(1.094,0.181),(1.115,0.198),(1.14,0.214),(1.173,0.226),
         (1.21,0.235),(1.248,0.246),(1.285,0.257),(1.327,0.266),(1.37,0.277),(1.415,0.291),(1.47,0.309),
         (1.525,0.328),(1.58,0.343),(1.64,0.36),(1.705,0.389),(1.775,0.423),(1.85,0.454),(1.93,0.482),
         (2.01,0.512),(2.08,0.544),(2.155,0.578),(2.235,0.629),(2.28,0.692),(2.245,0.734),(2.155,0.761),
         (2.09,0.808),(2.10,0.853),(2.185,0.885),
         (1.016,1.04),(1.044,1.04),(1.093,1.04),(1.15,1.04),(1.21,1.04),(1.27,1.04),(1.38,1.04),(1.51,1.04),
         (1.61,1.04),(1.73,1.04),(1.85,1.04),(1.93,1.04)]
b3_t5 = [(1.02,0.156),(1.07,0.176),(1.127,0.194),(1.185,0.213),(1.247,0.229),(1.31,0.246),(1.38,0.265),
         (1.45,0.291),(1.53,0.32),(1.61,0.353),(1.69,0.379),(1.78,0.418),(1.87,0.449),(1.93,0.518),
         (1.91,0.57),(1.97,0.599),(2.05,0.544),(2.18,0.628),(2.29,0.691),(2.41,0.761),
         (1.045,0.166),(1.10,0.185),(1.155,0.203),(1.215,0.221),(1.28,0.237),(1.345,0.255),(1.415,0.278),
         (1.49,0.305),(1.57,0.336),(1.65,0.366),(1.735,0.398),(1.825,0.433),(1.90,0.483),
         (1.104,0.99),(1.22,0.99),(1.41,0.99),(1.62,0.99),(1.87,0.99)]
b3_t6 = [(1.05,0.16),(1.093,0.174),(1.14,0.176),(1.185,0.185),(1.234,0.194),(1.285,0.203),(1.34,0.213),
         (1.39,0.224),(1.45,0.235),(1.51,0.246),(1.57,0.258),(1.64,0.271),(1.71,0.284),(1.78,0.298),
         (1.85,0.329),(1.93,0.353),(2.01,0.389),(2.09,0.418),(2.20,0.449),(2.29,0.482),(2.36,0.518),
         (2.41,0.584),(2.38,0.628),(2.34,0.691),(2.41,0.725),(2.48,0.798),(2.53,0.858),
         (1.07,0.167),(1.116,0.175),(1.162,0.18),(1.21,0.189),(1.26,0.198),(1.312,0.208),(1.365,0.218),
         (1.42,0.229),(1.48,0.24),(1.54,0.252),(1.605,0.264),(1.675,0.277),(1.745,0.291),(1.815,0.313),
         (1.89,0.341),(1.97,0.371),(2.05,0.403),(2.145,0.433),(2.245,0.465),(2.325,0.50),(2.385,0.551),
         (1.116,0.976),(1.26,0.976),(1.41,0.976),(1.51,0.976),(1.62,0.976),(1.80,0.976),(1.99,0.976),
         (2.18,0.976),(2.38,0.976)]
b3_t7 = [(1.164,0.155),(1.197,0.16),(1.23,0.166),(1.266,0.169),(1.31,0.174),(1.35,0.18),(1.40,0.189),
         (1.45,0.199),(1.53,0.208),(1.59,0.218),(1.66,0.244),(1.71,0.252),(1.76,0.265),(1.79,0.298),
         (1.81,0.337),(1.87,0.353),(1.95,0.37),(2.01,0.389),(2.07,0.418),(2.15,0.438),(2.22,0.449),
         (2.29,0.471),(2.36,0.494),(2.43,0.506),(2.51,0.518),(2.56,0.544),
         (1.18,0.157),(1.213,0.163),(1.248,0.167),(1.288,0.171),(1.33,0.177),(1.375,0.184),(1.425,0.194),
         (1.49,0.203),(1.56,0.213),(1.625,0.231),(1.685,0.248),(1.735,0.258),(1.775,0.28),(1.80,0.317),
         (1.84,0.345),(1.91,0.361),(1.98,0.379),(2.04,0.403),(2.11,0.428),(2.185,0.443),(2.255,0.46),
         (2.325,0.482),(2.395,0.50),(2.47,0.512),(2.535,0.531),
         (2.77,0.544),(2.89,0.549),(2.98,0.557),(3.07,0.57),(3.17,0.584),(3.25,0.599),(3.31,0.622),
         (3.40,0.634),(3.49,0.643),(2.83,0.546),(2.935,0.553),(3.025,0.563),(3.12,0.577),(3.21,0.591),
         (3.28,0.61),(3.355,0.628),(3.445,0.638),
         (2.07,0.691),(2.15,0.725),(2.24,0.761),(2.09,0.779),
         (2.65,0.87),(2.77,0.87),(2.86,0.858),(2.95,0.858),(3.10,0.845),(3.20,0.837),(3.30,0.829),
         (3.40,0.818),(3.49,0.798),(2.71,0.87),(2.815,0.864),(2.905,0.858),(3.025,0.851),(3.15,0.841),
         (3.25,0.833),(3.35,0.823),(3.445,0.808),(2.29,0.878),(2.41,0.878),(2.50,0.858),
         (1.018,0.976),(1.07,0.976),(1.127,0.976),(1.247,0.976),(1.41,0.976),(1.62,0.976),(1.74,0.976),
         (1.99,0.976),(2.15,0.976)]
b3_hom = [(1.0,0.438),(1.018,0.449),(1.04,0.46),(1.07,0.482),(1.11,0.494),(1.144,0.506),(1.18,0.518),
          (1.21,0.531),(1.247,0.57),(1.285,0.599),(1.33,0.613),(1.38,0.643),(1.42,0.675),(1.44,0.761),
          (1.42,0.837),(1.39,0.858),(1.45,0.878),(1.50,0.878),(1.53,0.922),(1.56,0.967),(1.61,1.064),
          (1.66,1.117),(1.71,1.17),(1.78,1.26),(1.83,1.35),(1.89,1.42),(1.95,1.53),(2.00,1.64),(1.97,1.72),
          (2.05,1.76),(2.11,1.85),(2.18,1.94),(2.24,2.03),(2.34,2.08),(2.41,2.06),(2.48,2.08),(2.34,2.19),
          (2.22,2.19),(2.15,2.24),(2.07,2.27),(2.00,2.32),(1.91,2.35),(1.83,2.38),(1.78,2.43),(1.71,2.46),
          (1.62,2.50),(1.56,2.52),(1.51,2.52),(1.47,2.52),(1.415,2.52),
          (1.96,1.45),(2.00,1.45),(2.04,1.46),(2.08,1.47),(2.11,1.48),(2.15,1.49),
          (1.009,0.443),(1.029,0.455),(1.055,0.471),(1.09,0.488),(1.127,0.50),(1.162,0.512),(1.195,0.524),
          (1.228,0.55),(1.266,0.584),(1.307,0.606),(1.355,0.628),(1.40,0.659),(1.43,0.718),(1.43,0.80),
          (1.405,0.848),(1.42,0.868),(1.475,0.878),(1.515,0.90),(1.545,0.944),(1.585,1.015),(1.635,1.09),
          (1.685,1.143),(1.745,1.215),(1.805,1.305),(1.86,1.385),(1.92,1.475),(1.975,1.585),(1.985,1.68),
          (2.01,1.74),(2.08,1.805),(2.145,1.895),(2.21,1.985),(2.29,2.055),(2.375,2.07),(2.445,2.07),
          (2.41,2.135),(2.28,2.19),(2.185,2.215),(2.11,2.255),(2.035,2.295),(1.955,2.335),(1.87,2.365),
          (1.805,2.405),(1.745,2.445),(1.665,2.48),(1.59,2.51),(1.535,2.52),(1.49,2.52),(1.44,2.52)]
b3_hlines = [('t3', 0.985), ('t6', 1.13), ('t4', 1.16), ('t3', 1.19), ('t7', 1.24), ('t2', 1.29),
             ('t5', 1.33), ('k', 1.0)]

# ---------------- styling ----------------
series_style = {
    't2': ('o', '#c6c6e8', 46),
    't3': ('o', '#8282e6', 46),
    't4': ('o', '#0000e0', 46),
    't5': ('^', '#d6d6ef', 42),
    't6': ('^', '#8282e6', 42),
    't7': ('^', '#0000e0', 42),
    'hom': ('D', '#a2142f', 26),
}
legend_text = {'t2': r'$t_2$', 't3': r'$t_3$', 't4': r'$t_4$', 't5': r'$t_5$',
               't6': r'$t_6$', 't7': r'$t_7$', 'hom': 'Homogeneous'}

panels = [
    dict(pos=[86, 72], series={'t2': a1_t2, 't3': a1_t3, 't6': a1_t6, 't7': a1_t7, 'hom': a1_hom},
         title=r'$Re_g$ = 2400', side='a', hlines=[], xmax=3.0),
    dict(pos=[708, 72], series={'t2': b1_t2, 't3': b1_t3, 't6': b1_t6, 't7': b1_t7, 'hom': b1_hom},
         title=r'$Re_g$ =2400', side='b', hlines=b1_hlines, xmax=3.0),
    dict(pos=[86, 411], series={'t2': a2_t2, 't3': a2_t3, 't4': a2_t4, 't5': a2_t5, 't6': a2_t6,
                                't7': a2_t7, 'hom': a2_hom},
         title=r'$Re_g$ = 1730', side='a', hlines=[], xmax=3.0),
    dict(pos=[708, 411], series={'t2': b2_t2, 't3': b2_t3, 't4': b2_t4, 't5': b2_t5, 't6': b2_t6,
                                 't7': b2_t7, 'hom': b2_hom},
         title=r'$Re_g$ =1730', side='b', hlines=b2_hlines, xmax=3.0),
    dict(pos=[86, 752], series={'t2': a3_t2, 't3': a3_t3, 't4': a3_t4, 't5': a3_t5, 't6': a3_t6,
                                't7': a3_t7, 'hom': a3_hom},
         title=r'$Re_g$ = 800', side='a', hlines=[], xmax=3.0),
    dict(pos=[708, 752], series={'t2': b3_t2, 't3': b3_t3, 't4': b3_t4, 't5': b3_t5, 't6': b3_t6,
                                 't7': b3_t7, 'hom': b3_hom},
         title=r'$Re_g$ =800', side='b', hlines=b3_hlines, xmax=3.5),
]

W, H = 1200, 1054
fig = plt.figure(figsize=(W / 100, H / 100), dpi=100)
axw, axh = 474, 236

for p in panels:
    x0, y0 = p['pos']
    ax = fig.add_axes([x0 / W, 1 - (y0 + axh) / H, axw / W, axh / H])
    ax.set_xscale('log')
    ax.set_yscale('log')

    for key, y in p['hlines']:
        col = 'black' if key == 'k' else series_style[key][1]
        ax.axhline(y, color=col, lw=1.4, ls=(0, (1, 1.3)), zorder=1)

    for key, pts in p['series'].items():
        m, c, s = series_style[key]
        xs = [q[0] for q in pts]
        ys = [q[1] for q in pts]
        sns.scatterplot(x=xs, y=ys, ax=ax, marker=m, color=c, s=s, linewidth=0,
                        legend=False, zorder=3)

    if p['side'] == 'a':
        ax.set_ylim(4.4, 0.5)
        ax.set_yticks([0.5, 1, 2, 3, 4], labels=['0.5', '1', '', '3', '4'])
        ax.set_yticks([0.6, 0.7, 0.8, 0.9], minor=True)
        ax.set_ylabel(r"$z'/M$", fontsize=18, labelpad=2)
    else:
        ax.set_ylim(3, 0.1)
        ax.set_yticks([0.1, 1, 2, 3], labels=['0.1', '1', '', '3'])
        ax.set_yticks([0.2, 0.3, 0.4, 0.5, 0.6, 0.7, 0.8, 0.9], minor=True)
        ax.set_ylabel(r"$z'/h,\ z'/H_s$", fontsize=18, labelpad=2)
    ax.yaxis.set_minor_formatter(plt.NullFormatter())

    ax.set_xlim(1, p['xmax'])
    ax.set_xticks([1, 2, 3], labels=['1', '', '3'])
    ax.xaxis.set_minor_locator(NullLocator())
    ax.set_xlabel(r'$L_{int}$ (cm)', fontsize=18, labelpad=8)
    ax.set_title(p['title'], fontsize=18, pad=10.5)

    ax.tick_params(which='both', direction='in', top=True, right=True, length=5,
                   width=0.8, color='#262626', labelsize=15, pad=6)
    for sp in ax.spines.values():
        sp.set_color('#262626')
        sp.set_linewidth(1.0)

    handles = []
    labels = []
    for key in p['series']:
        m, c, s = series_style[key]
        handles.append(Line2D([], [], marker=m, color=c, ls='none',
                              markersize=6.5 if m != 'D' else 5))
        labels.append(legend_text[key])
    leg = ax.legend(handles, labels, loc='upper right', ncol=len(handles), fontsize=14.5,
                    handlelength=0.6, handletextpad=0.1, columnspacing=0.15, borderpad=0.12,
                    borderaxespad=0.25, frameon=True, fancybox=False, framealpha=1)
    leg.get_frame().set_edgecolor('black')
    leg.get_frame().set_linewidth(1.0)

fig.text(18 / W, 1 - 18 / H, '(a)', fontsize=19, ha='center', va='center')
fig.text(641 / W, 1 - 18 / H, '(b)', fontsize=19, ha='center', va='center')

fig.savefig('out.png', dpi=100)
